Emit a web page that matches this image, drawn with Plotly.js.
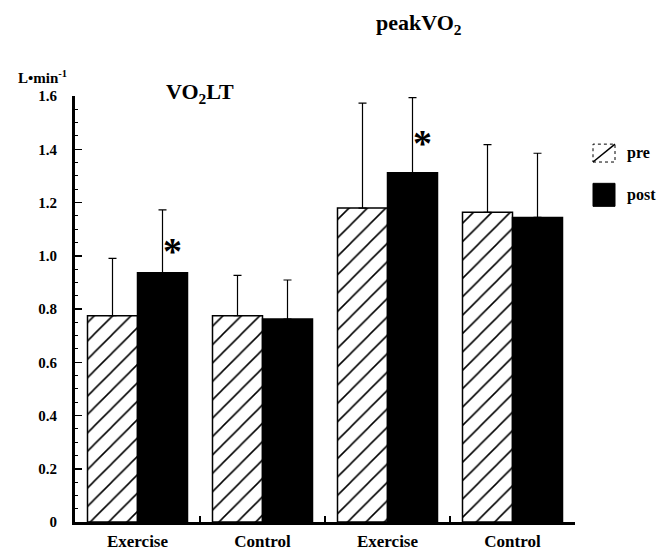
<!DOCTYPE html>
<html>
<head>
<meta charset="utf-8">
<script src="https://cdn.plot.ly/plotly-3.0.1.min.js"></script>
<style>html,body{margin:0;padding:0;background:#fff;}</style>
</head>
<body>
<div id="chart" style="width:661px;height:551px;"></div>
<script>
// Data
var categories = ["LT Exercise", "LT Control", "peak Exercise", "peak Control"];
var tickLabels = ["Exercise", "Control", "Exercise", "Control"];
var preValues = [0.775, 0.775, 1.179, 1.163];
var preErr = [0.215, 0.151, 0.394, 0.254];
var postValues = [0.936, 0.762, 1.312, 1.144];
var postErr = [0.236, 0.147, 0.282, 0.241];
var yTickVals = [0, 0.2, 0.4, 0.6, 0.8, 1.0, 1.2, 1.4, 1.6];
var yTickText = ["0", "0.2", "0.4", "0.6", "0.8", "1.0", "1.2", "1.4", "1.6"];
var sigCategories = ["LT Exercise", "peak Exercise"];
var sigHeights = [1.03, 1.435];

var serif = "Liberation Serif, Times New Roman, serif";
var zeros = preValues.map(function(){return 0;});

var tracePre = {
  type: "bar", name: "pre", x: categories, y: preValues,
  marker: {color: "white", line: {color: "black", width: 1.5},
    pattern: {shape: "/", size: 13, solidity: 0.12, fgcolor: "black", bgcolor: "white", fillmode: "replace"}},
  error_y: {type: "data", symmetric: false, array: preErr, arrayminus: zeros, color: "black", thickness: 1.2, width: 4},
  showlegend: false
};
var tracePost = {
  type: "bar", name: "post", x: categories, y: postValues,
  marker: {color: "black", line: {color: "black", width: 1.5}},
  error_y: {type: "data", symmetric: false, array: postErr, arrayminus: zeros, color: "black", thickness: 1.2, width: 4},
  showlegend: false
};

var annotations = [];
sigCategories.forEach(function(c, i){
  annotations.push({x: c, y: sigHeights[i], xref: "x", yref: "y", xshift: 35, yshift: -3, text: "*", showarrow: false,
    font: {family: serif, size: 38, color: "black", weight: "bold"}});
});
annotations.push({xref: "paper", yref: "paper", x: 0.25, y: 1.006, xanchor: "center", yanchor: "middle", text: "VO<sub>2</sub>LT", showarrow: false,
  font: {family: serif, size: 22, color: "black", weight: "bold"}});
annotations.push({xref: "paper", yref: "paper", x: 0.688, y: 1.168, xanchor: "center", yanchor: "middle", text: "peakVO<sub>2</sub>", showarrow: false,
  font: {family: serif, size: 22, color: "black", weight: "bold"}});
annotations.push({xref: "paper", yref: "paper", x: -0.118, y: 1.045, xanchor: "left", yanchor: "middle", text: "L•min<sup>-1</sup>", showarrow: false,
  font: {family: serif, size: 15, color: "black", weight: "bold"}});
annotations.push({xref: "paper", yref: "paper", x: 1.1, y: 0.866, xanchor: "left", yanchor: "middle", text: "pre", showarrow: false,
  font: {family: serif, size: 16, color: "black", weight: "bold"}});
annotations.push({xref: "paper", yref: "paper", x: 1.1, y: 0.767, xanchor: "left", yanchor: "middle", text: "post", showarrow: false,
  font: {family: serif, size: 16, color: "black", weight: "bold"}});

var shapes = [
  {type: "rect", xref: "paper", yref: "paper", x0: 1.036, x1: 1.08, y0: 0.845, y1: 0.887, line: {color: "black", width: 1, dash: "dot"}, fillcolor: "white"},
  {type: "line", xref: "paper", yref: "paper", x0: 1.036, x1: 1.08, y0: 0.845, y1: 0.887, line: {color: "black", width: 1.5}},
  {type: "rect", xref: "paper", yref: "paper", x0: 1.036, x1: 1.08, y0: 0.741, y1: 0.795, line: {color: "black", width: 1}, fillcolor: "black"}
];

var layout = {
  width: 661, height: 551,
  margin: {l: 75, r: 86, t: 96, b: 29, pad: 0},
  paper_bgcolor: "white", plot_bgcolor: "white",
  barmode: "group", bargap: 0.2, bargroupgap: 0,
  showlegend: false,
  xaxis: {type: "category", range: [-0.5, 3.5], tickmode: "array", tickvals: categories, ticktext: tickLabels,
    tickson: "boundaries", ticks: "inside", ticklen: 6, tickwidth: 1.5, tickcolor: "black",
    showline: true, linecolor: "black", linewidth: 3, showgrid: false, zeroline: false,
    ticklabelstandoff: 2,
    tickfont: {family: serif, size: 17, color: "black", weight: "bold"}},
  yaxis: {range: [0, 1.6], tickmode: "array", tickvals: yTickVals, ticktext: yTickText,
    ticks: "inside", ticklen: 7, tickwidth: 1.5, tickcolor: "black",
    minor: {dtick: 0.05, tick0: 0, ticks: "inside", ticklen: 3, tickwidth: 1, tickcolor: "black", showgrid: false},
    showline: true, linecolor: "black", linewidth: 3, showgrid: false, zeroline: false,
    ticklabelstandoff: 12,
    tickfont: {family: serif, size: 15, color: "black", weight: "bold"}},
  annotations: annotations,
  shapes: shapes
};

Plotly.newPlot("chart", [tracePre, tracePost], layout, {displayModeBar: false, staticPlot: true});
</script>
</body>
</html>
